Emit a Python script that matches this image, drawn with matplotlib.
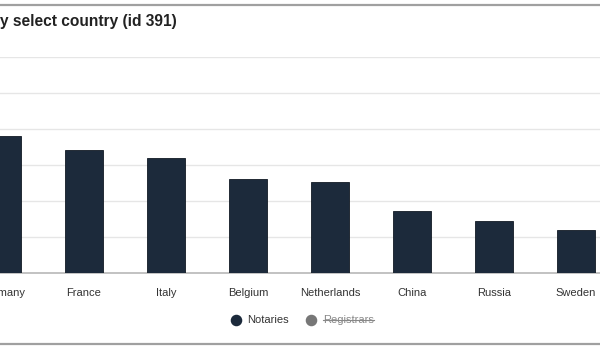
import matplotlib
matplotlib.use("Agg")
import matplotlib.pyplot as plt
from matplotlib.lines import Line2D

categories = ["Germany", "France", "Italy", "Belgium", "Netherlands", "China", "Russia", "Sweden"]
notaries = [3810, 3420, 3190, 2610, 2530, 1720, 1440, 1190]
title_text = "y select country (id 391)"
legend_labels = ["Notaries", "Registrars"]

bar_color = "#1c2a3b"
hidden_color = "#777777"

plt.rcParams['font.family'] = ['Liberation Sans', 'DejaVu Sans']

W, H = 600, 350
fig = plt.figure(figsize=(6, 3.5), dpi=100)
fig.patch.set_facecolor("white")

ax = fig.add_axes([0, (H - 273) / H, 1, (273 - 57) / H])
x = list(range(len(categories)))
ax.bar(x, notaries, width=0.463, color=bar_color, edgecolor="#111a24", linewidth=0.6, zorder=3)
ax.set_xlim(-2 / 82, 598 / 82)
ax.set_ylim(0, 6000)
ax.set_yticks(range(0, 6001, 1000))
ax.yaxis.grid(True, color="#e6e6e6", linewidth=1, zorder=0)
ax.set_yticklabels([])
ax.tick_params(axis="y", length=0)
ax.set_xticks(x)
ax.set_xticklabels(categories, fontsize=8.0, color="#333333")
ax.tick_params(axis="x", length=0, pad=10.5)
for s in ["top", "right", "left"]:
    ax.spines[s].set_visible(False)
ax.spines["bottom"].set_color("#b8b8b8")
ax.spines["bottom"].set_linewidth(1.2)
ax.set_facecolor("white")

# title
fig.text(0, 1 - 21.5 / H, title_text, fontsize=11.2, fontweight="bold", color="#222222", va="center", ha="left")

# borders
for yy in (5, 344):
    fig.add_artist(Line2D([0, 1], [1 - yy / H, 1 - yy / H], color="#a0a0a0", linewidth=1.6, transform=fig.transFigure))

# legend
ly = 1 - 320 / H
fig.add_artist(Line2D([236 / W], [ly], marker="o", markersize=7.3, color=bar_color, transform=fig.transFigure, linestyle="none"))
fig.text(247 / W, ly, legend_labels[0], fontsize=8.0, color="#333333", va="center", ha="left")
fig.add_artist(Line2D([311 / W], [ly], marker="o", markersize=7.3, color=hidden_color, transform=fig.transFigure, linestyle="none"))
t = fig.text(323 / W, ly, legend_labels[1], fontsize=8.0, color="#888888", va="center", ha="left")
fig.canvas.draw()
bb = t.get_window_extent()
fig.add_artist(Line2D([bb.x0 / W, bb.x1 / W], [ly, ly], color="#888888", linewidth=0.8, transform=fig.transFigure))

fig.savefig("out.png", dpi=100, facecolor="white")
